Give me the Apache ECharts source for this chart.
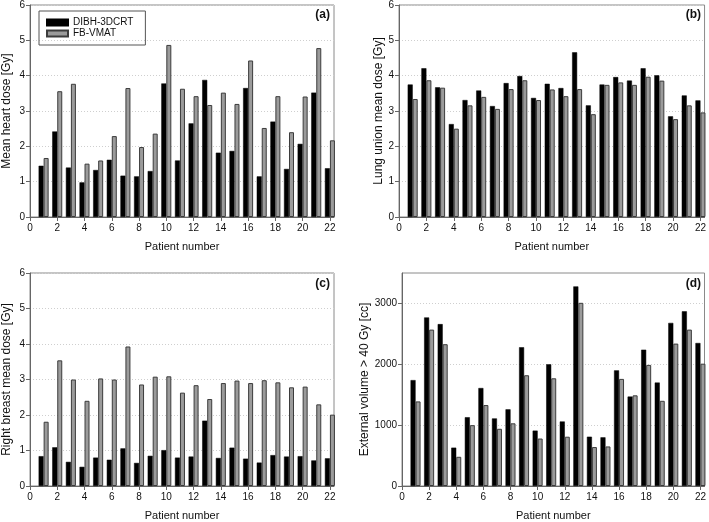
<!DOCTYPE html>
<html>
<head>
<meta charset="utf-8">
<title>DIBH-3DCRT vs FB-VMAT</title>
<script src="https://cdn.jsdelivr.net/npm/echarts@6/dist/echarts.min.js"></script>
<style>
    html, body { margin: 0; padding: 0; background: #fff; }
    #main { width: 709px; height: 522px; }
</style>
</head>
<body>
<div id="main"></div>
<script type="text/javascript">
    // patient numbers
    var patients = [1, 2, 3, 4, 5, 6, 7, 8, 9, 10, 11, 12, 13, 14, 15, 16, 17, 18, 19, 20, 21, 22];

    // (a) mean heart dose [Gy]
    var heartDibh = [1.45, 2.42, 1.40, 0.98, 1.33, 1.62, 1.17, 1.15, 1.30, 3.78, 1.60, 2.65, 3.88, 1.82, 1.87, 3.65, 1.15, 2.70, 1.36, 2.07, 3.52, 1.38];
    var heartVmat = [1.67, 3.56, 3.77, 1.51, 1.60, 2.29, 3.65, 1.98, 2.36, 4.87, 3.63, 3.42, 3.17, 3.52, 3.20, 4.43, 2.52, 3.42, 2.40, 3.41, 4.78, 2.17];

    // (b) lung union mean dose [Gy]
    var lungDibh = [3.75, 4.21, 3.67, 2.63, 3.31, 3.58, 3.14, 3.79, 3.99, 3.37, 3.77, 3.65, 4.66, 3.16, 3.75, 3.96, 3.86, 4.21, 4.01, 2.85, 3.44, 3.30];
    var lungVmat = [3.34, 3.87, 3.66, 2.50, 3.16, 3.40, 3.06, 3.62, 3.87, 3.31, 3.61, 3.42, 3.62, 2.91, 3.74, 3.81, 3.74, 3.97, 3.86, 2.77, 3.16, 2.96];

    // (c) right breast mean dose [Gy]
    var breastDibh = [0.84, 1.09, 0.68, 0.54, 0.80, 0.74, 1.06, 0.65, 0.85, 1.01, 0.80, 0.83, 1.84, 0.79, 1.08, 0.77, 0.66, 0.87, 0.83, 0.84, 0.72, 0.78];
    var breastVmat = [1.81, 3.54, 3.00, 2.40, 3.03, 3.00, 3.93, 2.86, 3.08, 3.09, 2.63, 2.84, 2.45, 2.90, 2.97, 2.90, 2.98, 2.92, 2.78, 2.80, 2.30, 2.01];

    // (d) external volume > 40 Gy [cc]
    var extDibh = [1740, 2770, 2660, 630, 1130, 1610, 1110, 1260, 2280, 910, 2000, 1060, 3280, 810, 800, 1900, 1470, 2240, 1700, 2680, 2870, 2350];
    var extVmat = [1390, 2570, 2330, 480, 1000, 1330, 940, 1030, 1820, 780, 1770, 810, 3010, 640, 650, 1760, 1490, 1990, 1400, 2340, 2570, 2010];

    // tick labels
    var xTicks = [0, 2, 4, 6, 8, 10, 12, 14, 16, 18, 20, 22];
    var doseTicks = [0, 1, 2, 3, 4, 5, 6];
    var volTicks = [0, 1000, 2000, 3000];

    var panelNames = ['(a)', '(b)', '(c)', '(d)'];
    var yNames = ['Mean heart dose [Gy]', 'Lung union mean dose [Gy]', 'Right breast mean dose [Gy]', 'External volume > 40 Gy [cc]'];

    var font = 'Liberation Sans, Arial, sans-serif';

    function pairs(vals) {
        return patients.map(function (p, i) { return [p, vals[i]]; });
    }

    var grids = [
        {left: 29, top: 5, width: 305, height: 212},
        {left: 399, top: 4, width: 308, height: 213},
        {left: 29, top: 273, width: 305, height: 213},
        {left: 402, top: 273, width: 305, height: 213}
    ];
    var yGaps = [17, 11, 17, 30];

    var xAxes = [], yAxes = [], series = [], titles = [];

    for (var i = 0; i < 4; i++) {
        grids[i].show = true;
        grids[i].borderColor = '#8a8a8a';
        grids[i].borderWidth = 1;

        xAxes.push({
            type: 'value', gridIndex: i, min: 0, max: 22.3, interval: 2,
            name: 'Patient number', nameLocation: 'middle', nameGap: 24,
            nameTextStyle: {fontSize: 11, color: '#111', fontFamily: font},
            axisLine: {show: true, onZero: false, lineStyle: {color: '#666'}},
            axisTick: {show: true, length: 4, customValues: xTicks, lineStyle: {color: '#666'}},
            axisLabel: {customValues: xTicks, fontSize: 10, color: '#111', margin: 6, fontFamily: font},
            splitLine: {show: false}
        });

        var isVol = (i === 3);
        yAxes.push({
            type: 'value', gridIndex: i, min: 0,
            max: isVol ? 3500 : 6, interval: isVol ? 1000 : 1,
            name: yNames[i], nameLocation: 'middle', nameGap: yGaps[i],
            nameTextStyle: {fontSize: 12, color: '#111', fontFamily: font},
            axisLine: {show: true, onZero: false, lineStyle: {color: '#666'}},
            axisTick: {show: true, length: 4, customValues: isVol ? volTicks : doseTicks, lineStyle: {color: '#666'}},
            axisLabel: {
                customValues: isVol ? volTicks : doseTicks, fontSize: 10, color: '#111', margin: 5, fontFamily: font,
                formatter: function (v) { return String(v); }
            },
            splitLine: {show: true, lineStyle: {color: '#cfcfcf', type: [1, 2], width: 1}}
        });

        titles.push({
            text: panelNames[i],
            right: (i % 2 === 0) ? 379 : 8,
            top: (i < 2) ? 9 : 278,
            padding: 0,
            textStyle: {fontSize: 12, fontWeight: 'bold', color: '#111', fontFamily: font}
        });
    }

    var dibhSets = [heartDibh, lungDibh, breastDibh, extDibh];
    var vmatSets = [heartVmat, lungVmat, breastVmat, extVmat];

    for (var j = 0; j < 4; j++) {
        series.push({
            name: 'DIBH-3DCRT', type: 'bar', xAxisIndex: j, yAxisIndex: j,
            data: pairs(dibhSets[j]), barWidth: 5, barGap: '0%',
            itemStyle: {color: '#000', borderColor: '#000', borderWidth: 0.5}
        });
        series.push({
            name: 'FB-VMAT', type: 'bar', xAxisIndex: j, yAxisIndex: j,
            data: pairs(vmatSets[j]), barWidth: 5, barGap: '0%',
            itemStyle: {color: '#9b9b9b', borderColor: '#3c3c3c', borderWidth: 1}
        });
    }

    var myChart = echarts.init(document.getElementById('main'));
    myChart.setOption({
        animation: false,
        title: titles,
        legend: {
            data: ['DIBH-3DCRT', 'FB-VMAT'],
            orient: 'vertical', left: 39, top: 11,
            padding: [6, 12, 6, 7], itemGap: 0,
            itemWidth: 21, itemHeight: 6,
            borderColor: '#555', borderWidth: 1,
            icon: 'rect',
            textStyle: {fontSize: 10, color: '#111', lineHeight: 11, fontFamily: font}
        },
        grid: grids,
        xAxis: xAxes,
        yAxis: yAxes,
        series: series
    });
</script>
</body>
</html>
